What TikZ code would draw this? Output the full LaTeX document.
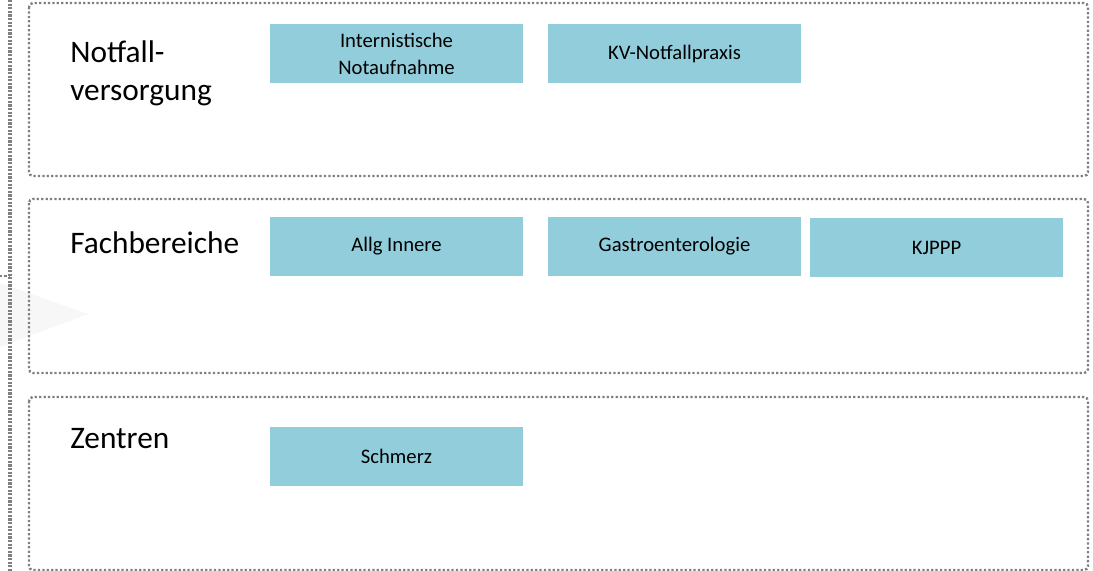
\documentclass[tikz,border=0pt]{standalone}
\usepackage{fontspec}
\setmainfont{Carlito}
\begin{document}
\begin{tikzpicture}[x=0.75pt,y=-0.75pt,
  frame/.style={draw=black!50, line width=1.8pt, dash pattern=on 1.7pt off 1.6pt, rounded corners=3pt},
  unit/.style={fill=blueunit, minimum width=189.75pt, minimum height=44.25pt, inner sep=0pt, align=center, font=\fontsize{15.5}{20.25}\selectfont},
  grp/.style={anchor=base west, inner sep=0pt, align=left, font=\fontsize{23.5}{28.5}\selectfont}
]
\definecolor{blueunit}{HTML}{92CDDC}
\useasboundingbox (0,0) rectangle (1093,571);
% faint shadow
\fill[black!3] (0,283) -- (88,314) -- (0,347) -- cycle;
% left line
\coordinate (lt) at (10,0);
\coordinate (lb) at (10,571);
\coordinate (tk) at (0,276);
\coordinate (tkr) at (10,276);
\draw[black!50, line width=2.3pt, dash pattern=on 1.6pt off 1.1pt] (lt) -- (lb);
\draw[black!50, line width=1.8pt, dash pattern=on 1.7pt off 1.6pt] (tk) -- (tkr);
% group frames
\draw[frame] (29,3) rectangle (1088,176);
\draw[frame] (29,199) rectangle (1088,373);
\draw[frame] (29,397) rectangle (1088,570);
% group labels
\node[grp] (g1) at (70,100) {Notfall-\\versorgung};
\node[grp] (g2) at (70,253) {Fachbereiche};
\node[grp] (g3) at (70,448) {Zentren};
% units
\node[unit] (u1) at (396.5,53.5) {Internistische\\Notaufnahme};
\node[unit] (u2) at (674.5,53.5) {KV-Notfallpraxis};
\node[unit] (u3) at (396.5,246.5) {Allg Innere};
\node[unit] (u4) at (674.5,246.5) {Gastroenterologie};
\node[unit] (u5) at (936.5,247.5) {KJPPP};
\node[unit] (u6) at (396.5,456.5) {Schmerz};
\end{tikzpicture}
\end{document}
